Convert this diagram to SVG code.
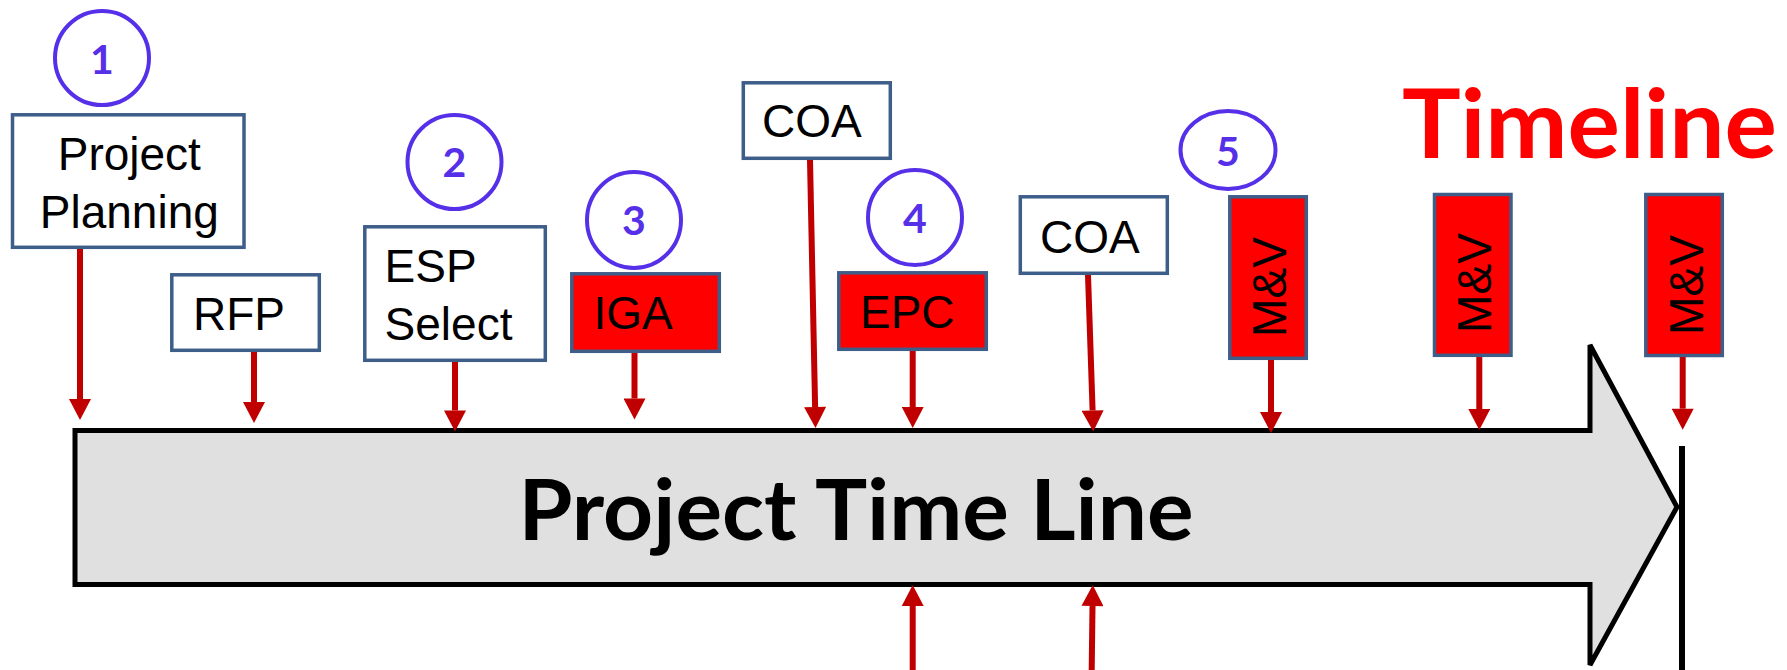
<svg xmlns="http://www.w3.org/2000/svg" width="1787" height="670" viewBox="0 0 1787 670">
<style>
.box{fill:#FFFFFF;stroke:#3E5E8A;stroke-width:3.5}
.rbox{fill:#FF0000;stroke:#3E5E8A;stroke-width:3.5}
.lbl{font-family:"Liberation Sans",Arial,sans-serif;font-size:46px;fill:#000000}
.mv{font-family:"Liberation Sans",Arial,sans-serif;font-size:49px;fill:#000000;text-anchor:middle}
.num{fill:none;stroke:#5530E8;stroke-width:4}
.numt{font-family:Lato,"Open Sans",sans-serif;font-weight:bold;font-size:41px;fill:#5530E8;text-anchor:middle}
.conn{stroke:#C00000;stroke-width:6;fill:none}
</style>
<defs>
<marker id="ah" markerUnits="userSpaceOnUse" markerWidth="22" markerHeight="22" viewBox="0 0 21 22" refX="0" refY="11" orient="auto">
<path d="M0,0 L21,11 L0,22 z" fill="#C00000"/>
</marker>
</defs>
<g id="timeline-arrow">
<polygon points="75,430.5 1590,430.5 1590,345 1677,507 1590,665 1590,584.5 75,584.5" fill="#E0E0E0" stroke="#000000" stroke-width="5" stroke-linejoin="miter"/>
<text x="856" y="540" text-anchor="middle" textLength="675" lengthAdjust="spacingAndGlyphs" font-family="Lato,'Open Sans',sans-serif" font-weight="bold" font-size="84" fill="#000000">Project Time Line</text>
</g>
<g id="end-line"><line x1="1682" y1="446" x2="1682" y2="670" stroke="#000000" stroke-width="6"/></g>
<g id="title"><text x="1402" y="158" textLength="375" lengthAdjust="spacingAndGlyphs" font-family="Lato,'Open Sans',sans-serif" font-weight="bold" font-size="95" fill="#FF0000">Timeline</text></g>
<g id="n-project-planning">
<rect class="box" x="12.5" y="114.8" width="231.5" height="132.5"/>
<text class="lbl" x="129.3" y="170" text-anchor="middle">Project</text>
<text class="lbl" x="129.3" y="228" text-anchor="middle">Planning</text>
</g>
<g id="n-rfp">
<rect class="box" x="171.8" y="274.8" width="147.5" height="75.5"/>
<text class="lbl" x="193" y="330">RFP</text>
</g>
<g id="n-esp">
<rect class="box" x="364.8" y="226.8" width="180.5" height="133.5"/>
<text class="lbl" x="384.6" y="282">ESP</text>
<text class="lbl" x="384.6" y="340">Select</text>
</g>
<g id="n-iga">
<rect class="rbox" x="571.8" y="273.8" width="147.5" height="77.5"/>
<text class="lbl" x="593.5" y="329">IGA</text>
</g>
<g id="n-coa1">
<rect class="box" x="743.3" y="82.8" width="147" height="75.5"/>
<text class="lbl" x="762" y="137">COA</text>
</g>
<g id="n-epc">
<rect class="rbox" x="838.8" y="272.8" width="147.5" height="76.5"/>
<text class="lbl" x="860" y="328">EPC</text>
</g>
<g id="n-coa2">
<rect class="box" x="1020.3" y="196.8" width="147" height="76.5"/>
<text class="lbl" x="1040" y="253">COA</text>
</g>
<g id="n-mv1">
<rect class="rbox" x="1229.8" y="196.8" width="76.5" height="161.5"/>
<text class="mv" textLength="100" lengthAdjust="spacingAndGlyphs" transform="translate(1286,287) rotate(-90)">M&amp;V</text>
</g>
<g id="n-mv2">
<rect class="rbox" x="1434.5" y="194.5" width="76.5" height="160.8"/>
<text class="mv" textLength="100" lengthAdjust="spacingAndGlyphs" transform="translate(1490.7,283) rotate(-90)">M&amp;V</text>
</g>
<g id="n-mv3">
<rect class="rbox" x="1645.8" y="194.5" width="76.5" height="161"/>
<text class="mv" textLength="100" lengthAdjust="spacingAndGlyphs" transform="translate(1703,285) rotate(-90)">M&amp;V</text>
</g>
<g id="step1"><ellipse class="num" cx="102" cy="58" rx="47" ry="47"/><text class="numt" x="102" y="74">1</text></g>
<g id="step2"><ellipse class="num" cx="454.5" cy="162" rx="47" ry="47"/><text class="numt" x="454.5" y="176.7">2</text></g>
<g id="step3"><ellipse class="num" cx="634" cy="220" rx="47" ry="48"/><text class="numt" x="634" y="235">3</text></g>
<g id="step4"><ellipse class="num" cx="915" cy="217.5" rx="47" ry="47.5"/><text class="numt" x="915" y="233">4</text></g>
<g id="step5"><ellipse class="num" cx="1228" cy="150" rx="47.5" ry="39"/><text class="numt" x="1228" y="166">5</text></g>
<g id="connectors">
<path class="conn" marker-end="url(#ah)" d="M80,249 L80,399"/>
<path class="conn" marker-end="url(#ah)" d="M254,352 L254,402"/>
<path class="conn" marker-end="url(#ah)" d="M455,362 L455,410.5"/>
<path class="conn" marker-end="url(#ah)" d="M634.5,353 L634.5,398.5"/>
<path class="conn" marker-end="url(#ah)" d="M810,160 L815.1,407"/>
<path class="conn" marker-end="url(#ah)" d="M912.7,351 L912.7,407"/>
<path class="conn" marker-end="url(#ah)" d="M1088,275 L1092.6,410.5"/>
<path class="conn" marker-end="url(#ah)" d="M1271,360 L1271,412"/>
<path class="conn" marker-end="url(#ah)" d="M1479.3,357 L1479.3,409"/>
<path class="conn" marker-end="url(#ah)" d="M1682.7,357 L1682.7,408.7"/>
<path class="conn" marker-end="url(#ah)" d="M912.7,670 L912.7,606"/>
<path class="conn" marker-end="url(#ah)" d="M1091.7,670 L1092.5,606"/>
</g>
</svg>
